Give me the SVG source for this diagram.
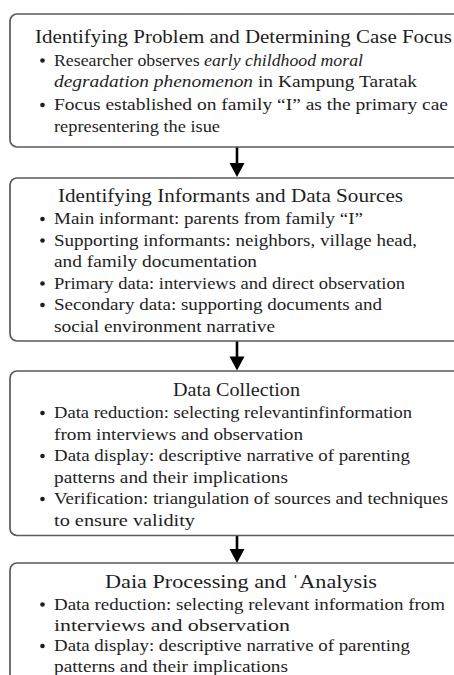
<svg xmlns="http://www.w3.org/2000/svg" width="454" height="675" viewBox="0 0 454 675">
<style>
.box{fill:#fff;stroke:#5a5a5a;stroke-width:1.7}
.t{font-family:"Liberation Serif","Times New Roman",serif;fill:#1e1e1e}
.h{font-size:18.5px}
.b{font-size:17px}
.d{fill:#1e1e1e}
.ar{stroke:#000;stroke-width:2.6}
</style>
<rect width="454" height="675" fill="#fff"/>
<g id="connectors">
<line class="ar" x1="237" y1="147" x2="237" y2="165"/><polygon points="229.5,163 244.5,163 237,177"/>
<line class="ar" x1="237" y1="341" x2="237" y2="358"/><polygon points="229.5,356.5 244.5,356.5 237,370.5"/>
<line class="ar" x1="237" y1="536" x2="237" y2="551"/><polygon points="229.5,549 244.5,549 237,563"/>
</g>
<g id="node1">
<rect class="box" x="10" y="14" width="470" height="133" rx="7"/>
<text class="t h" x="35" y="43" textLength="417" lengthAdjust="spacingAndGlyphs">Identifying Problem and Determining Case Focus</text>
<circle class="d" cx="42.5" cy="60.5" r="2.3"/>
<text class="t b" x="54" y="65.5" textLength="309" lengthAdjust="spacingAndGlyphs">Researcher observes <tspan font-style="italic">early childhood moral</tspan></text>
<text class="t b" x="54" y="87" textLength="363" lengthAdjust="spacingAndGlyphs"><tspan font-style="italic">degradation phenomenon</tspan> in Kampung Taratak</text>
<circle class="d" cx="42.5" cy="105" r="2.3"/>
<text class="t b" x="54" y="110" textLength="394" lengthAdjust="spacingAndGlyphs">Focus established on family “I” as the primary cae</text>
<text class="t b" x="54" y="131.5" textLength="166" lengthAdjust="spacingAndGlyphs">representering the isue</text>
</g>
<g id="node2">
<rect class="box" x="10" y="178" width="470" height="163" rx="7"/>
<text class="t h" x="58" y="202" textLength="345" lengthAdjust="spacingAndGlyphs">Identifying Informants and Data Sources</text>
<circle class="d" cx="42.5" cy="219" r="2.3"/>
<text class="t b" x="54" y="224" textLength="309" lengthAdjust="spacingAndGlyphs">Main informant: parents from family “I”</text>
<circle class="d" cx="42.5" cy="240.5" r="2.3"/>
<text class="t b" x="54" y="245.5" textLength="363" lengthAdjust="spacingAndGlyphs">Supporting informants: neighbors, village head,</text>
<text class="t b" x="54" y="267" textLength="203" lengthAdjust="spacingAndGlyphs">and family documentation</text>
<circle class="d" cx="42.5" cy="283.5" r="2.3"/>
<text class="t b" x="54" y="288.5" textLength="351" lengthAdjust="spacingAndGlyphs">Primary data: interviews and direct observation</text>
<circle class="d" cx="42.5" cy="305" r="2.3"/>
<text class="t b" x="54" y="310" textLength="328" lengthAdjust="spacingAndGlyphs">Secondary data: supporting documents and</text>
<text class="t b" x="54" y="331.5" textLength="221" lengthAdjust="spacingAndGlyphs">social environment narrative</text>
</g>
<g id="node3">
<rect class="box" x="10" y="371" width="470" height="164.5" rx="7"/>
<text class="t h" x="173" y="396" textLength="127" lengthAdjust="spacingAndGlyphs">Data Collection</text>
<circle class="d" cx="42.5" cy="413" r="2.3"/>
<text class="t b" x="54" y="418" textLength="358" lengthAdjust="spacingAndGlyphs">Data reduction: selecting relevantinfinformation</text>
<text class="t b" x="54" y="439.5" textLength="249" lengthAdjust="spacingAndGlyphs">from interviews and observation</text>
<circle class="d" cx="42.5" cy="456" r="2.3"/>
<text class="t b" x="54" y="461" textLength="356" lengthAdjust="spacingAndGlyphs">Data display: descriptive narrative of parenting</text>
<text class="t b" x="54" y="482.5" textLength="234" lengthAdjust="spacingAndGlyphs">patterns and their implications</text>
<circle class="d" cx="42.5" cy="499" r="2.3"/>
<text class="t b" x="54" y="504" textLength="394" lengthAdjust="spacingAndGlyphs">Verification: triangulation of sources and techniques</text>
<text class="t b" x="54" y="525.5" textLength="141" lengthAdjust="spacingAndGlyphs">to ensure validity</text>
</g>
<g id="node4">
<rect class="box" x="10" y="563" width="470" height="130" rx="7"/>
<text class="t h" x="105" y="588" textLength="272" lengthAdjust="spacingAndGlyphs">Daia Processing and ˈAnalysis</text>
<circle class="d" cx="42.5" cy="604.5" r="2.3"/>
<text class="t b" x="54" y="609.5" textLength="391" lengthAdjust="spacingAndGlyphs">Data reduction: selecting relevant information from</text>
<text class="t b" x="54" y="630.5" textLength="236" lengthAdjust="spacingAndGlyphs">interviews and observation</text>
<circle class="d" cx="42.5" cy="646" r="2.3"/>
<text class="t b" x="54" y="651" textLength="356" lengthAdjust="spacingAndGlyphs">Data display: descriptive narrative of parenting</text>
<text class="t b" x="54" y="671.5" textLength="234" lengthAdjust="spacingAndGlyphs">patterns and their implications</text>
</g>
</svg>
